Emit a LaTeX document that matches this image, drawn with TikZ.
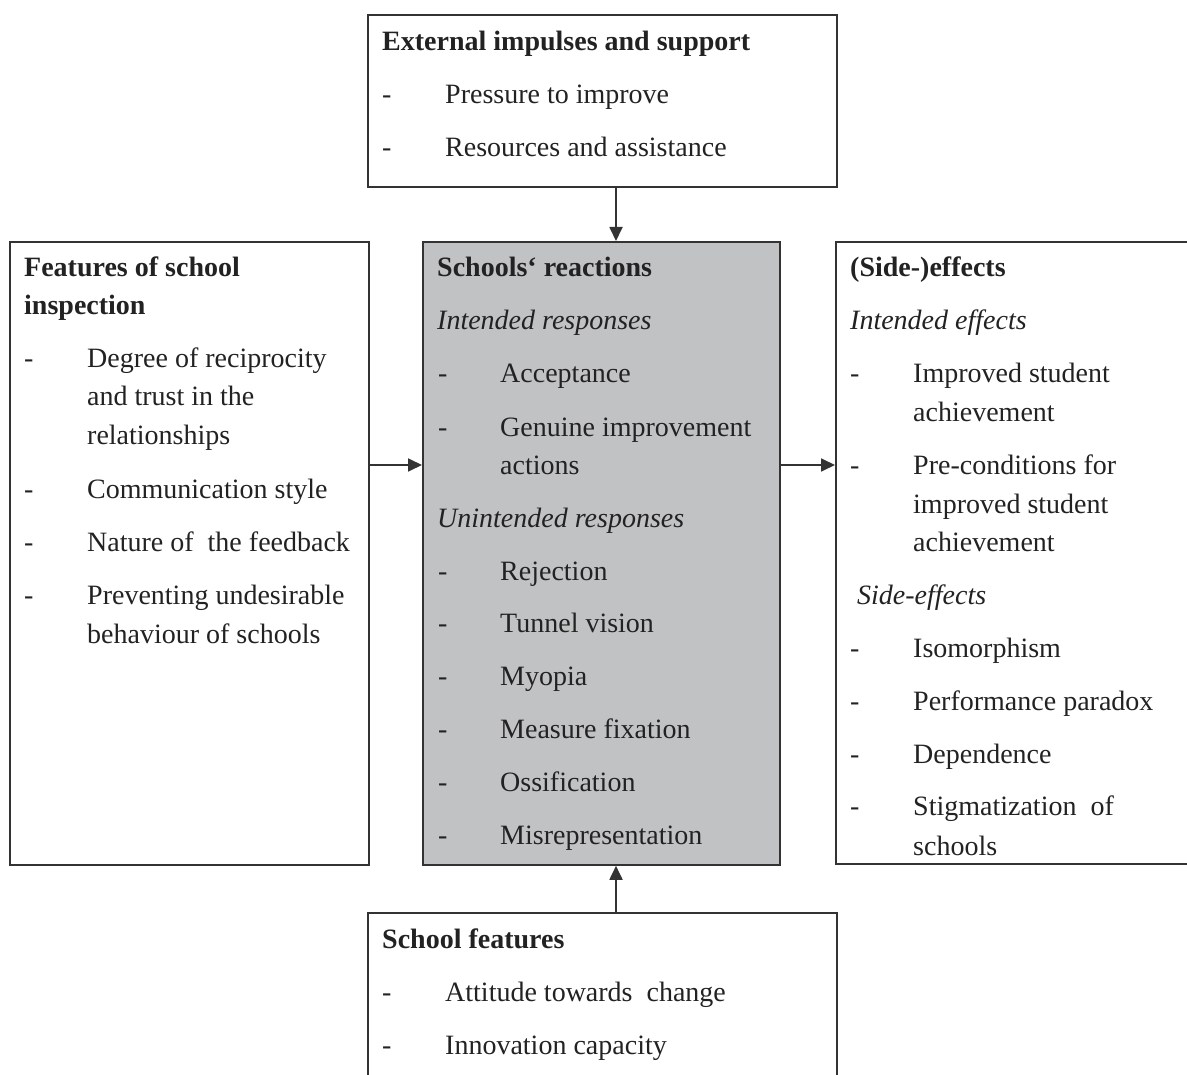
\documentclass[tikz,border=0pt]{standalone}
\usepackage{fontspec}
\setmainfont{Liberation Serif}
\usetikzlibrary{arrows.meta}
\definecolor{framegray}{HTML}{333333}
\definecolor{textgray}{HTML}{222222}
\definecolor{reactfill}{HTML}{C1C2C4}
\tikzset{
  box/.style={draw=framegray, line width=1.8pt, rectangle, inner sep=0pt, anchor=north west},
  hdr/.style={anchor=base west, inner sep=0pt, text=textgray, font=\fontsize{28}{34}\selectfont\bfseries},
  sub/.style={anchor=base west, inner sep=0pt, text=textgray, font=\fontsize{28}{34}\selectfont\itshape},
  itm/.style={anchor=base west, inner sep=0pt, text=textgray, font=\fontsize{28}{34}\selectfont},
  arr/.style={draw=framegray, line width=1.8pt, -{Triangle[length=14pt,width=13pt]}}
}
\begin{document}
\begin{tikzpicture}[x=1pt,y=-1pt]
\useasboundingbox (0,0) rectangle (1187,1075);
% boxes
\node[box, minimum width=469pt, minimum height=172pt] (ext) at (367,14){};
\node[box, minimum width=359pt, minimum height=623pt] (insp) at (9,241){};
\node[box, fill=reactfill, minimum width=357pt, minimum height=623pt] (react) at (422,241){};
\node[box, minimum width=400pt, minimum height=622pt] (eff) at (835,241){};
\node[box, minimum width=469pt, minimum height=200pt] (sch) at (367,912){};
% arrows
\coordinate (vx) at (616,0);
\coordinate (hy) at (0,465);
\draw[arr](ext.south -| vx) -- (react.north -| vx);
\draw[arr](sch.north -| vx) -- (react.south -| vx);
\draw[arr](insp.east |- hy) -- (react.west |- hy);
\draw[arr](react.east |- hy) -- (eff.west |- hy);

% external impulses
\node[hdr] (ext-h) at (382,51){External impulses and support};
\foreach \y/\t [count=\i] in {104/Pressure to improve, 157/Resources and assistance}{
  \node[itm] (ext-d\i) at (382,\y){-};
  \node[itm] (ext-\i) at (445,\y){\t};
}

% features of inspection
\node[hdr] (insp-h1) at (24,277){Features of school};
\node[hdr] (insp-h2) at (24,315){inspection};
\foreach \y/\d/\t [count=\i] in {368/-/Degree of reciprocity, 406//and trust in the, 445//relationships, 498/-/Communication style, 551/-/Nature of\ \ the feedback, 604/-/Preventing undesirable, 643//behaviour of schools}{
  \node[itm] (insp-d\i) at (24,\y){\d};
  \node[itm] (insp-\i) at (87,\y){\t};
}

% reactions
\node[hdr] (react-h) at (437,277){Schools‘ reactions};
\node[sub] (react-s1) at (437,330){Intended responses};
\foreach \y/\d/\t [count=\i] in {383/-/Acceptance, 436/-/Genuine improvement, 474//actions}{
  \node[itm] (react-da\i) at (438,\y){\d};
  \node[itm] (react-a\i) at (500,\y){\t};
}
\node[sub] (react-s2) at (437,527){Unintended responses};
\foreach \y/\d/\t [count=\i] in {580/-/Rejection, 632/-/Tunnel vision, 685/-/Myopia, 738/-/Measure fixation, 791/-/Ossification, 844/-/Misrepresentation}{
  \node[itm] (react-db\i) at (438,\y){\d};
  \node[itm] (react-b\i) at (500,\y){\t};
}

% effects
\node[hdr] (eff-h) at (850,277){(Side-)effects};
\node[sub] (eff-s1) at (850,330){Intended effects};
\foreach \y/\d/\t [count=\i] in {383/-/Improved student, 421//achievement, 474/-/Pre-conditions for, 513//improved student, 551//achievement}{
  \node[itm] (eff-da\i) at (850,\y){\d};
  \node[itm] (eff-a\i) at (913,\y){\t};
}
\node[sub] (eff-s2) at (857,604){Side-effects};
\foreach \y/\d/\t [count=\i] in {657/-/Isomorphism, 710/-/Performance paradox, 763/-/Dependence, 815/-/Stigmatization\ \ of, 855//schools}{
  \node[itm] (eff-db\i) at (850,\y){\d};
  \node[itm] (eff-b\i) at (913,\y){\t};
}

% school features
\node[hdr] (sch-h) at (382,948){School features};
\foreach \y/\t [count=\i] in {1001/Attitude towards\ \ change, 1054/Innovation capacity}{
  \node[itm] (sch-d\i) at (382,\y){-};
  \node[itm] (sch-\i) at (445,\y){\t};
}

\end{tikzpicture}
\end{document}
